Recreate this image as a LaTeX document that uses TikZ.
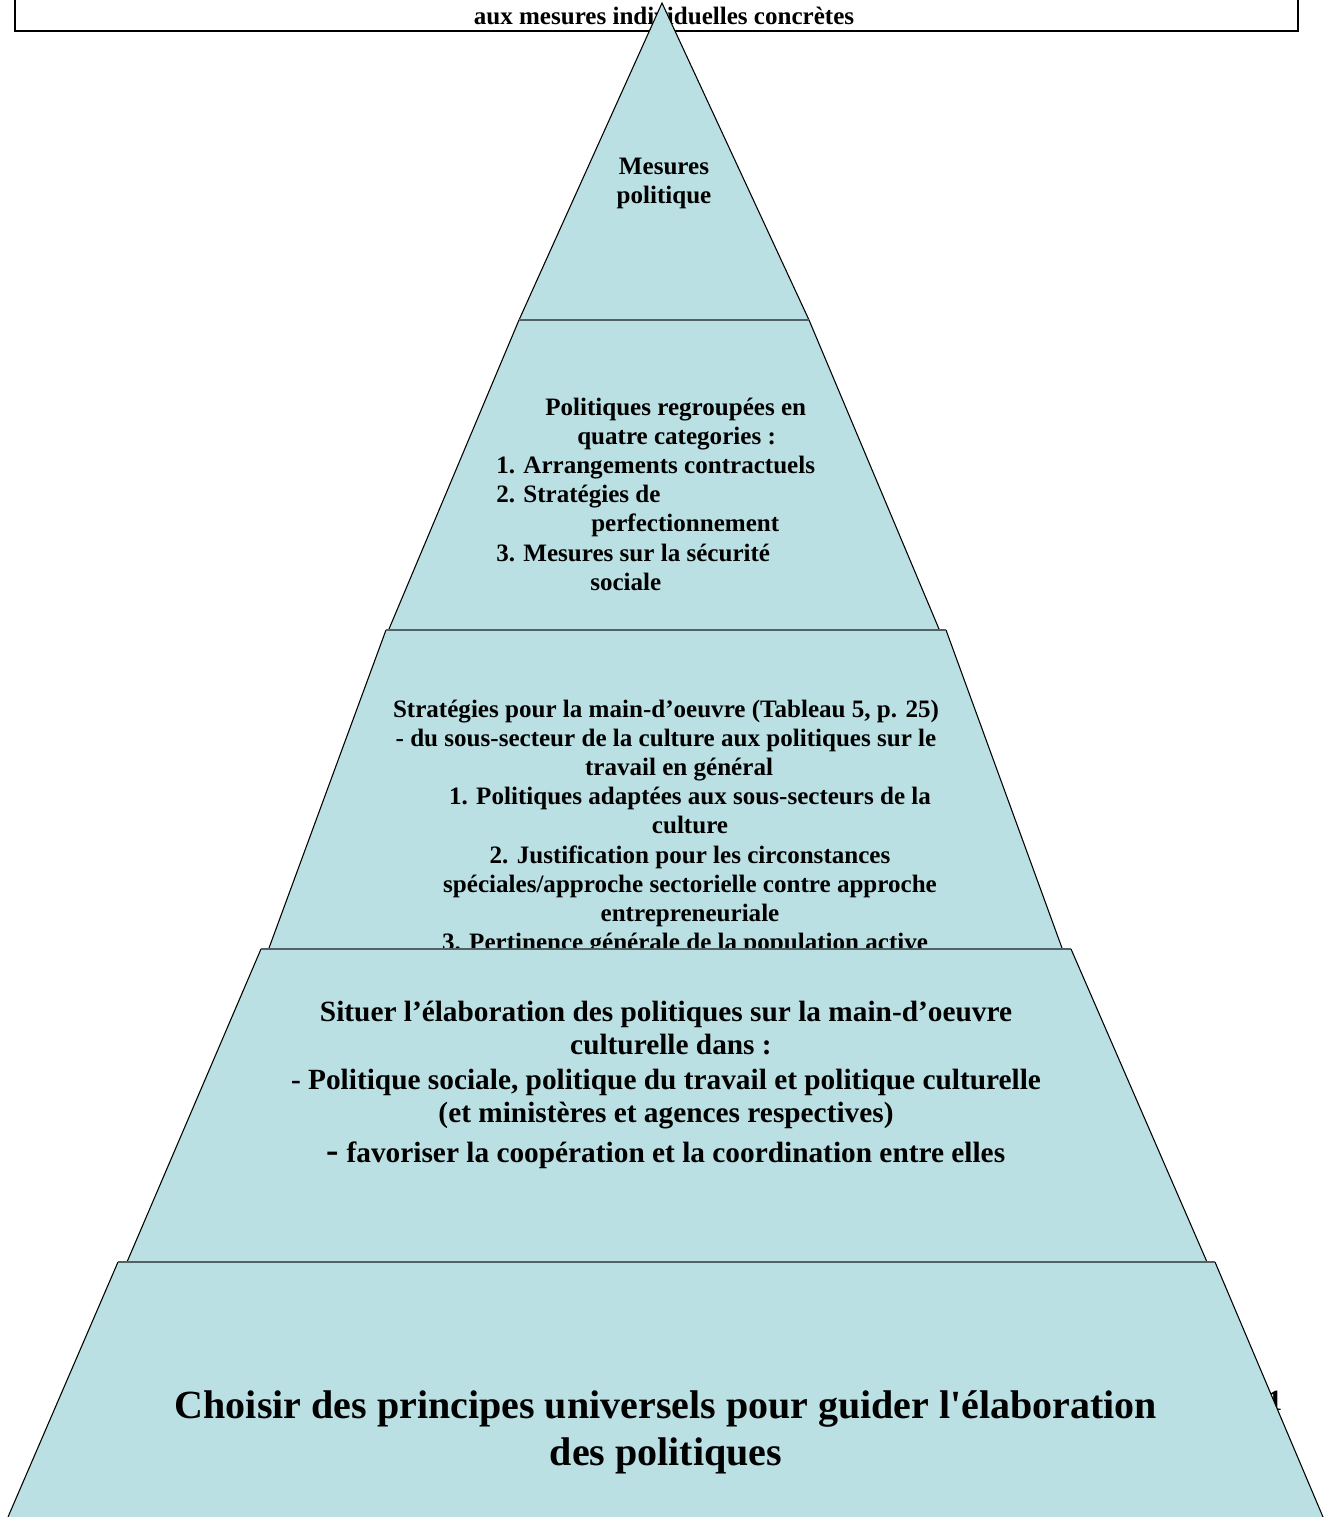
\documentclass[tikz,border=0pt]{standalone}
\usepackage{fontspec}
\newfontfamily\tnr{Liberation Serif}
\usepackage{tikz}
\usetikzlibrary{positioning}
\definecolor{tierfill}{RGB}{187,224,227}
\definecolor{tieredge}{RGB}{82,98,100}
\tikzstyle{tier}=[fill=tierfill]
\tikzstyle{side}=[draw=black, line width=0.8pt]
\tikzstyle{sep}=[draw=tieredge, line width=1.9pt]
\tikzstyle{lbl}=[inner sep=0pt, anchor=north, align=center]
\newcommand{\smallfont}{\tnr\bfseries\fontsize{18.8pt}{21.8pt}\selectfont}
\newcommand{\midfont}{\tnr\bfseries\fontsize{22pt}{24.75pt}\selectfont}
\newcommand{\bigfont}{\tnr\bfseries\fontsize{30pt}{35.25pt}\selectfont}

\begin{document}
\begin{tikzpicture}[x=0.75pt, y=-0.75pt]
\useasboundingbox (0,0) rectangle (1325,1517);

% heading box
\draw[line width=0.9pt] (15,-20) rectangle (1298,31);
\draw[line width=1.6pt] (15,31) -- (1298,31);
\node (head) [lbl, anchor=center, font=\smallfont] at (664,16) {aux mesures individuelles concrètes};

% level 1
\fill[tier] (662,3) -- (809,320) -- (519,320) -- cycle;
\draw[side] (519,320) -- (662,3) -- (809,320);
\node (mesures) [lbl, font=\smallfont] at (664,158) {Mesures\\politique};

% level 2
\fill[tier] (519,320) -- (809,320) -- (939,629) -- (389,629) -- cycle;
\draw[side] (519,320) -- (389,629);
\draw[side] (809,320) -- (939,629);
\draw[sep] (519,320) -- (809,320);
\node (categ) [lbl, anchor=north west, align=left, font=\smallfont] at (496,398) {%
\hspace*{36.75pt}Politiques regroupées en\\
\hspace*{60.75pt}quatre categories :\\
1. Arrangements contractuels\\
2. Stratégies de\\
\hspace*{71.25pt}perfectionnement\\
3. Mesures sur la sécurité\\
\hspace*{70.5pt}sociale};

% level 3
\fill[tier] (386,630) -- (946,630) -- (1062,948) -- (269,948) -- cycle;
\draw[side] (386,630) -- (269,948);
\draw[side] (946,630) -- (1062,948);
\draw[sep] (386,630) -- (946,630);
\node (strat) [lbl, font=\smallfont] at (666,700) {%
Stratégies pour la main-d’oeuvre (Tableau 5, p. 25)\\
- du sous-secteur de la culture aux politiques sur le\\
\hspace*{19.5pt}travail en général\\
\hspace*{36pt}1. Politiques adaptées aux sous-secteurs de la\\
\hspace*{36pt}culture\\
\hspace*{36pt}2. Justification pour les circonstances\\
\hspace*{36pt}spéciales/approche sectorielle contre approche\\
\hspace*{36pt}entrepreneuriale\\
\hspace*{28.5pt}3. Pertinence générale de la population active};

% level 4
\fill[tier] (261,949) -- (1071,949) -- (1207,1262) -- (127,1262) -- cycle;
\draw[side] (261,949) -- (127,1262);
\draw[side] (1071,949) -- (1207,1262);
\draw[sep] (261,949) -- (1071,949);
\node (situer) [lbl, font=\midfont] at (666,1001) {%
Situer l’élaboration des politiques sur la main-d’oeuvre\\
\hspace*{7.5pt}culturelle dans :\\[1.5pt]
- Politique sociale, politique du travail et politique culturelle\\
(et ministères et agences respectives)\\[5pt]
{\fontsize{28pt}{24.75pt}\selectfont -} favoriser la coopération et la coordination entre elles};

% hidden mark behind level 5
\node (mark) [lbl, anchor=center, font=\tnr\bfseries\fontsize{22pt}{24pt}\selectfont] at (1275,1401) {1};

% level 5
\fill[tier] (118,1262) -- (1215,1262) -- (1323,1517) -- (8,1517) -- cycle;
\draw[side] (118,1262) -- (8,1517);
\draw[side] (1215,1262) -- (1323,1517);
\draw[sep] (118,1262) -- (1215,1262);
\node (choisir) [lbl, font=\bigfont] at (666,1390) {%
Choisir des principes universels pour guider l'élaboration\\
des politiques};
\end{tikzpicture}
\end{document}
